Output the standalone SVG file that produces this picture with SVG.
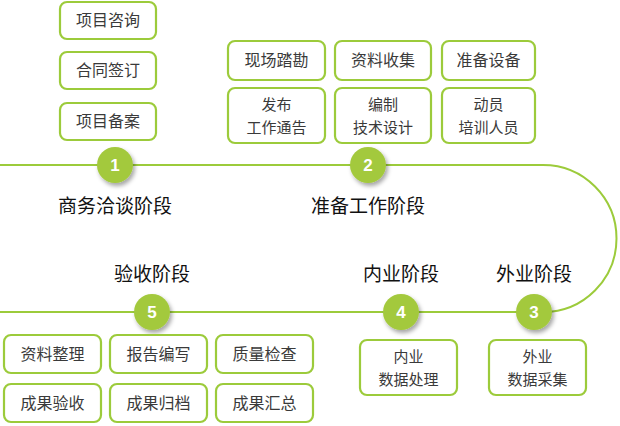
<svg xmlns="http://www.w3.org/2000/svg" width="620" height="426" viewBox="0 0 620 426">
<style>
.b{fill:#fff;stroke:#9ccb3b;stroke-width:2.2}
.t{font-family:"Noto Sans CJK SC","Noto Sans",sans-serif;font-size:16px;fill:#3a3a3a;text-anchor:middle}
.u{font-family:"Noto Sans CJK SC","Noto Sans",sans-serif;font-size:15px;fill:#3a3a3a;text-anchor:middle}
.s{font-family:"Noto Sans CJK SC","Noto Sans",sans-serif;font-size:19px;fill:#111;text-anchor:middle}
.c{fill:#a3c93c}
.n{font-family:"Liberation Sans",sans-serif;font-weight:bold;font-size:17px;fill:#fff;text-anchor:middle}
</style>
<defs><filter id="sh" x="-50%" y="-50%" width="200%" height="200%"><feDropShadow dx="2" dy="3" stdDeviation="2" flood-opacity="0.35"/></filter></defs>
<rect width="620" height="426" fill="#fff"/>
<g id="connectors"><path d="M0 165 H543 A73.5 73.5 0 0 1 543 312 H0" fill="none" stroke="#9ccb3b" stroke-width="2"/></g>
<g id="s1"><circle class="c" cx="115" cy="165" r="18" filter="url(#sh)"/><text class="n" x="115" y="171">1</text><text class="s" x="115" y="213">商务洽谈阶段</text></g>
<g id="s2"><circle class="c" cx="368" cy="165" r="18" filter="url(#sh)"/><text class="n" x="368" y="171">2</text><text class="s" x="368" y="213">准备工作阶段</text></g>
<g id="s3"><circle class="c" cx="534" cy="312" r="18" filter="url(#sh)"/><text class="n" x="534" y="318">3</text><text class="s" x="534" y="281">外业阶段</text></g>
<g id="s4"><circle class="c" cx="401" cy="312" r="18" filter="url(#sh)"/><text class="n" x="401" y="318">4</text><text class="s" x="401" y="281">内业阶段</text></g>
<g id="s5"><circle class="c" cx="152" cy="312" r="18" filter="url(#sh)"/><text class="n" x="152" y="318">5</text><text class="s" x="152" y="281">验收阶段</text></g>
<g id="b1"><rect class="b" x="60" y="2" width="96" height="37" rx="7"/><text class="t" x="108" y="26">项目咨询</text></g>
<g id="b2"><rect class="b" x="60" y="52" width="96" height="37" rx="7"/><text class="t" x="108" y="76">合同签订</text></g>
<g id="b3"><rect class="b" x="60" y="103" width="96" height="37" rx="7"/><text class="t" x="108" y="127">项目备案</text></g>
<g id="b4"><rect class="b" x="228" y="41" width="97" height="39" rx="7"/><text class="t" x="276.5" y="66">现场踏勘</text></g>
<g id="b5"><rect class="b" x="335" y="41" width="96" height="39" rx="7"/><text class="t" x="383" y="66">资料收集</text></g>
<g id="b6"><rect class="b" x="442" y="41" width="93" height="39" rx="7"/><text class="t" x="488.5" y="66">准备设备</text></g>
<g id="b7"><rect class="b" x="228" y="88" width="97" height="55" rx="7"/><text class="u" x="276.5" y="110">发布</text><text class="u" x="276.5" y="133">工作通告</text></g>
<g id="b8"><rect class="b" x="335" y="88" width="96" height="55" rx="7"/><text class="u" x="383" y="110">编制</text><text class="u" x="383" y="133">技术设计</text></g>
<g id="b9"><rect class="b" x="442" y="88" width="93" height="55" rx="7"/><text class="u" x="488.5" y="110">动员</text><text class="u" x="488.5" y="133">培训人员</text></g>
<g id="b10"><rect class="b" x="360" y="340" width="97" height="55" rx="7"/><text class="u" x="408.5" y="362">内业</text><text class="u" x="408.5" y="385">数据处理</text></g>
<g id="b11"><rect class="b" x="489" y="340" width="97" height="55" rx="7"/><text class="u" x="537.5" y="362">外业</text><text class="u" x="537.5" y="385">数据采集</text></g>
<g id="b12"><rect class="b" x="4" y="335" width="97" height="38" rx="7"/><text class="t" x="52.5" y="360">资料整理</text></g>
<g id="b13"><rect class="b" x="110" y="335" width="97" height="38" rx="7"/><text class="t" x="158.5" y="360">报告编写</text></g>
<g id="b14"><rect class="b" x="216" y="335" width="97" height="38" rx="7"/><text class="t" x="264.5" y="360">质量检查</text></g>
<g id="b15"><rect class="b" x="4" y="384" width="97" height="38" rx="7"/><text class="t" x="52.5" y="409">成果验收</text></g>
<g id="b16"><rect class="b" x="110" y="384" width="97" height="38" rx="7"/><text class="t" x="158.5" y="409">成果归档</text></g>
<g id="b17"><rect class="b" x="216" y="384" width="97" height="38" rx="7"/><text class="t" x="264.5" y="409">成果汇总</text></g>
</svg>
